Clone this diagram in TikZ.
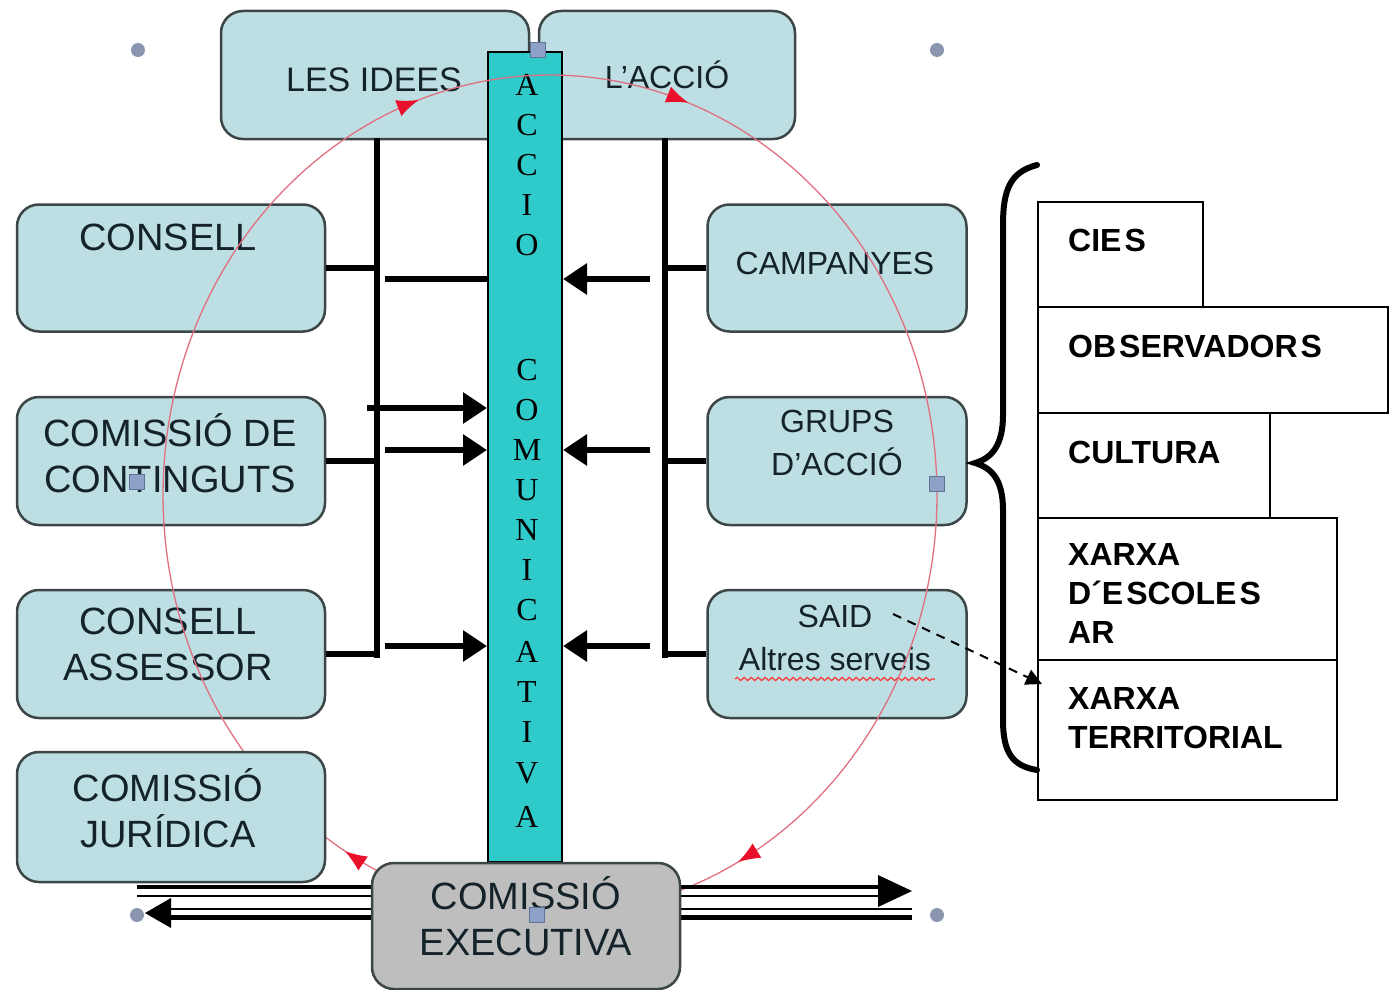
\documentclass[tikz,border=0pt]{standalone}
\usepackage{fontspec}
\setmainfont{Liberation Sans}
\newfontfamily\barfont{Liberation Serif}
\usetikzlibrary{arrows.meta,decorations.markings,decorations.pathmorphing}
\definecolor{boxfill}{HTML}{BDDEE2}
\definecolor{boxline}{HTML}{3C4646}
\definecolor{tealbar}{HTML}{2FCACA}
\definecolor{execfill}{HTML}{BEBEBE}
\definecolor{txt}{HTML}{14222A}
\definecolor{handlefill}{HTML}{8EA2C8}
\definecolor{handleline}{HTML}{5F7399}
\definecolor{dotfill}{HTML}{8A96B0}
\definecolor{cyclecol}{HTML}{E07080}
\definecolor{cyclearr}{HTML}{E8102A}
\begin{document}
\begin{tikzpicture}[x=1pt,y=-1pt,
  bluebox/.style={draw=boxline, line width=2.5pt, fill=boxfill, rounded corners=22pt, inner sep=0pt},
  execbox/.style={draw=boxline, line width=2.5pt, fill=execfill, rounded corners=22pt, inner sep=0pt},
  listbox/.style={draw=black, line width=1.6pt, fill=white, inner sep=0pt},
  biglbl/.style={font=\fontsize{38}{46}\selectfont, text=txt, align=center, inner sep=0pt},
  smllbl/.style={font=\fontsize{32}{43}\selectfont, text=txt, align=center, inner sep=0pt},
  listlbl/.style={font=\bfseries\fontsize{32}{39}\selectfont, text=black, align=left, inner sep=0pt, anchor=west},
  barlbl/.style={font=\barfont\fontsize{32}{32}\selectfont, text=black, inner sep=0pt},
  conn/.style={line width=6pt, black},
  bigarr/.style={line width=6pt, black, -{Triangle[length=24pt,width=30pt]}},
  handle/.style={draw=handleline, line width=1pt, fill=handlefill, minimum size=15pt, inner sep=0pt},
  dot/.style={circle, fill=dotfill, minimum size=14pt, inner sep=0pt},
  cyclestyle/.style={draw=cyclecol, line width=1.3pt},
  cyclehead/.style={cyclearr, -{Latex[length=22pt,width=17pt]}}
]
\useasboundingbox (0,0) rectangle (1389,990);

% top boxes
\node[bluebox, minimum width=308pt, minimum height=128pt] (ideas) at (375,75) {};
\node[bluebox, minimum width=256pt, minimum height=128pt] (accio) at (667,75) {};
\node[smllbl, font=\fontsize{34}{40}\selectfont] (ideaslbl) at (374,80) {LES IDEES};
\node[smllbl] (acciolbl) at (667,75) {L'ACCIÓ};

% central bar
\node[draw=black, line width=2pt, fill=tealbar, minimum width=74pt, minimum height=810pt, inner sep=0pt] (bar) at (525,457) {};
\foreach \l/\y [count=\i] in {A/85,C/125,C/165,I/205,O/245,C/370,O/410,M/450,U/490,N/530,I/570,C/610,A/652,T/692,I/732,V/773,A/817}
  \node[barlbl] (bl\i) at (527,\y) {\l};

% side boxes
\node[bluebox, minimum width=308pt, minimum height=127pt] (consell) at (171,268) {};
\node[bluebox, minimum width=308pt, minimum height=128pt] (contin) at (171,461) {};
\node[bluebox, minimum width=308pt, minimum height=128pt] (assessor) at (171,654) {};
\node[bluebox, minimum width=259pt, minimum height=127pt] (campanyes) at (837,268) {};
\node[bluebox, minimum width=259pt, minimum height=128pt] (grups) at (837,461) {};
\node[bluebox, minimum width=259pt, minimum height=128pt] (said) at (837,654) {};

\node[biglbl] (consellbl) at (168,237) {CONSELL};
\node[biglbl] (continlbl) at (170,453) {COMISSIÓ DE\\CONTINGUTS};
\node[biglbl] (assessorlbl) at (168,644) {CONSELL\\ASSESSOR};
\node[smllbl] (campanyeslbl) at (835,263) {CAMPANYES};
\node[smllbl] (grupslbl) at (837,443) {GRUPS\\D'ACCIÓ};
\node[smllbl] (saidlbl) at (835,638) {SAID\\Altres serveis};
\draw[red!80, line width=1.2pt, decorate, decoration={snake, amplitude=1.6pt, segment length=7pt}] (735,679) -- (935,679);

% left connectors
\coordinate (ltop) at (377,138);
\coordinate (lbot) at (377,658);
\coordinate (lj1) at (377,268);
\coordinate (lj2) at (377,461);
\coordinate (lj3) at (377,654);
\draw[conn] (ltop) -- (lbot);
\draw[conn] (consell.east) -- (lj1);
\draw[conn] (contin.east) -- (lj2);
\draw[conn] (assessor.east) -- (lj3);
\coordinate (la1) at (385,279);
\coordinate (la2) at (367,408);
\coordinate (la3) at (385,450);
\coordinate (la4) at (385,646);
\draw[conn] (la1) -- (bar.west |- la1);
\draw[bigarr] (la2) -- (bar.west |- la2);
\draw[bigarr] (la3) -- (bar.west |- la3);
\draw[bigarr] (la4) -- (bar.west |- la4);

% right connectors
\coordinate (rtop) at (665,138);
\coordinate (rbot) at (665,658);
\coordinate (rj1) at (665,268);
\coordinate (rj2) at (665,461);
\coordinate (rj3) at (665,654);
\draw[conn] (rtop) -- (rbot);
\draw[conn] (rj1) -- (campanyes.west);
\draw[conn] (rj2) -- (grups.west);
\draw[conn] (rj3) -- (said.west);
\coordinate (ra1) at (650,279);
\coordinate (ra2) at (650,450);
\coordinate (ra3) at (650,646);
\draw[bigarr] (ra1) -- (bar.east |- ra1);
\draw[bigarr] (ra2) -- (bar.east |- ra2);
\draw[bigarr] (ra3) -- (bar.east |- ra3);

% list boxes
\node[listbox, minimum width=165pt, minimum height=105pt] (cies) at (1120.5,254.5) {};
\node[listbox, minimum width=350pt, minimum height=106pt] (obs) at (1213,360) {};
\node[listbox, minimum width=232pt, minimum height=105pt] (cultura) at (1154,465.5) {};
\node[listbox, minimum width=299pt, minimum height=142pt] (escoles) at (1187.5,589) {};
\node[listbox, minimum width=299pt, minimum height=140pt] (territ) at (1187.5,730) {};
\node[listlbl] (cieslbl) at (1068,240) {CIE\kern3pt S};
\node[listlbl] (obslbl) at (1068,346) {OB\kern3pt SERVADOR\kern3pt S};
\node[listlbl] (culturalbl) at (1068,452) {CULTURA};
\node[listlbl] (escoleslbl) at (1068,593) {XARXA\\D´E\kern3pt SCOLE\kern3pt S\\AR};
\node[listlbl] (territlbl) at (1068,718) {XARXA\\TERRITORIAL};

% brace
\draw[line width=6pt, line cap=round] (1037,165) .. controls (1010,172) and (1003,190) .. (1003,225)
  -- (1003,415) .. controls (1003,445) and (992,458) .. (975,463)
  .. controls (992,468) and (1003,480) .. (1003,510)
  -- (1003,720) .. controls (1003,752) and (1012,766) .. (1037,770);

% dashed arrow SAID -> territorial
\coordinate (dstart) at (893,614);
\coordinate (dend) at (1042,684);
\draw[line width=2pt, dashed, dash pattern=on 9pt off 7pt, -{Triangle[length=16pt,width=16pt]}] (dstart) -- (dend);

% cycle ellipse
\draw[cyclestyle, postaction={decorate}, decoration={markings,
   mark=at position 0.172 with {\arrow[cyclearr]{Latex[length=22pt,width=17pt]}},
   mark=at position 0.336 with {\arrow[cyclearr]{Latex[length=22pt,width=17pt]}},
   mark=at position 0.697 with {\arrow[cyclearr]{Latex[length=22pt,width=17pt]}},
   mark=at position 0.806 with {\arrow[cyclearr]{Latex[length=22pt,width=17pt]}}}]
  plot[domain=0:360, samples=241] ({550+387*cos(\x)}, {495+420*sin(\x)});

% juridica (over the cycle)
\node[bluebox, minimum width=308pt, minimum height=130pt] (juridica) at (171,817) {};
\node[biglbl] (juridicalbl) at (168,808) {COMISSIÓ\\JURÍDICA};

% bottom double arrows
\coordinate (bl1a) at (137,887);  \coordinate (bl1b) at (880,887);
\coordinate (bl2a) at (137,896);  \coordinate (bl2b) at (880,896);
\coordinate (btipR) at (912,891);
\coordinate (bl3a) at (168,909);  \coordinate (bl3b) at (912,909);
\coordinate (bl4a) at (168,917);  \coordinate (bl4b) at (912,917);
\coordinate (btipL) at (145,913);
\draw[line width=3.5pt] (bl1a) -- (bl1b);
\draw[line width=2pt] (bl2a) -- (bl2b);
\fill (btipR) -- (878,875) -- (878,907) -- cycle;
\draw[line width=2pt] (bl3a) -- (bl3b);
\draw[line width=5pt] (bl4a) -- (bl4b);
\fill (btipL) -- (171,898) -- (171,928) -- cycle;

% executive box
\node[execbox, minimum width=308pt, minimum height=126pt] (exec) at (526,926) {};
\node[biglbl] (execlbl) at (526,916) {COMISSIÓ\\EXECUTIVA};

% selection handles
\node[handle] (h1) at (538,50) {};
\node[handle] (h2) at (137,482) {};
\node[handle] (h3) at (937,484) {};
\node[handle] (h4) at (537,915) {};
\node[dot] (d1) at (138,50) {};
\node[dot] (d2) at (937,50) {};
\node[dot] (d3) at (137,915) {};
\node[dot] (d4) at (937,915) {};
\end{tikzpicture}
\end{document}
